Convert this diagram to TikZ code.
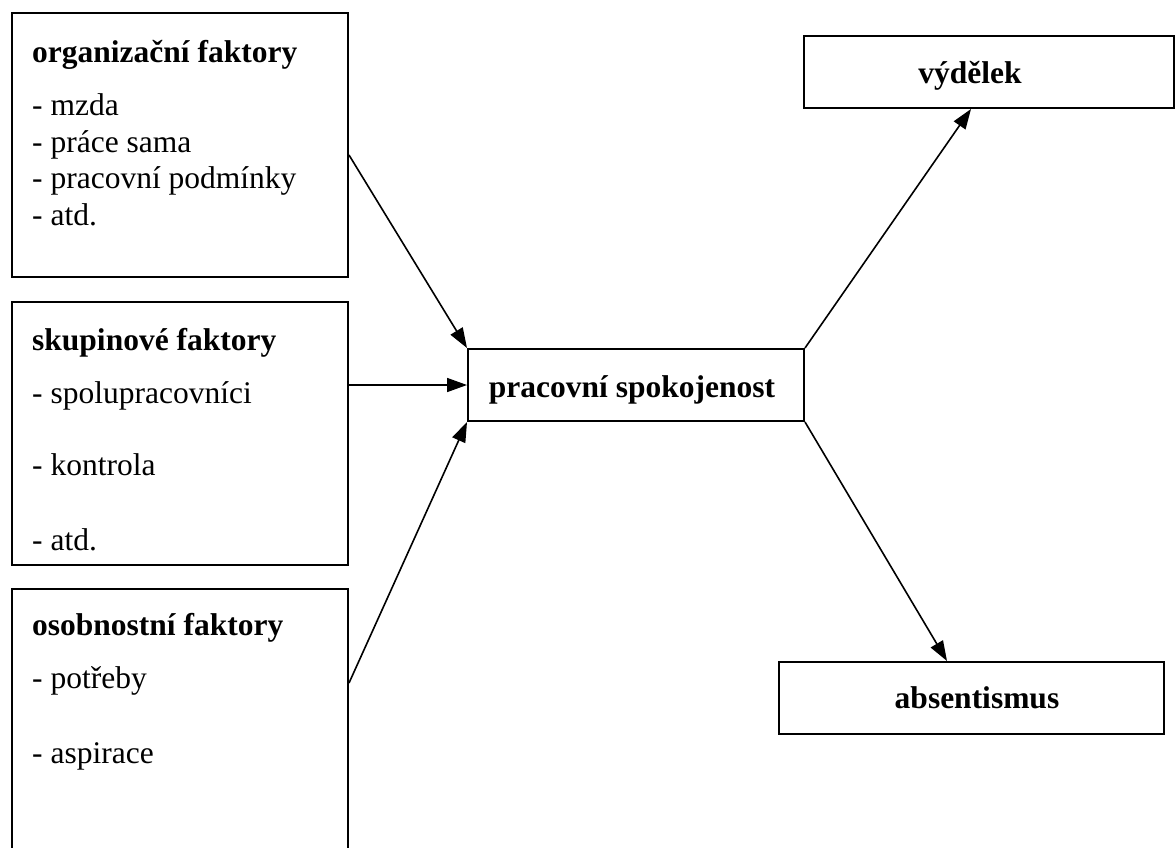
\documentclass[tikz,border=0pt]{standalone}
\usepackage{fontspec}
\setmainfont{Liberation Serif}
\usetikzlibrary{arrows.meta,calc}
\begin{document}
\begin{tikzpicture}[x=1pt,y=-1pt,
 box/.style={draw,line width=2pt,inner sep=0pt,anchor=north west},
 ttl/.style={anchor=base west,inner sep=0pt,font=\fontsize{31.5}{36}\selectfont\bfseries},
 itm/.style={anchor=base west,inner sep=0pt,font=\fontsize{31.5}{36}\selectfont},
 ctr/.style={anchor=base,inner sep=0pt,font=\fontsize{31.5}{36}\selectfont\bfseries},
 arr/.style={line width=1.6pt,-{Triangle[length=20pt,width=14pt]}}]
\useasboundingbox (0,0) rectangle (1175,847);
\clip (0,0) rectangle (1175,847);
% boxes
\node[box,minimum width=336pt,minimum height=264pt] (org) at (11,12) {};
\node[box,minimum width=336pt,minimum height=263pt] (skup) at (11,301) {};
\node[box,minimum width=336pt,minimum height=320pt] (osob) at (11,588) {};
\node[box,minimum width=336pt,minimum height=72pt] (ps) at (467,348) {};
\node[box,minimum width=370pt,minimum height=72pt] (vyd) at (803,35) {};
\node[box,minimum width=385pt,minimum height=72pt] (abs) at (778,661) {};
% texts
\node[ttl] (t1) at (32,62) {organizační faktory};
\node[itm] (t1a) at (32,115) {- mzda};
\node[itm] (t1b) at (32,152) {- práce sama};
\node[itm] (t1c) at (32,188) {- pracovní podmínky};
\node[itm] (t1d) at (32,225) {- atd.};
\node[ttl] (t2) at (32,350) {skupinové faktory};
\node[itm] (t2a) at (32,403) {- spolupracovníci};
\node[itm] (t2b) at (32,475) {- kontrola};
\node[itm] (t2c) at (32,550) {- atd.};
\node[ttl] (t3) at (32,635) {osobnostní faktory};
\node[itm] (t3a) at (32,688) {- potřeby};
\node[itm] (t3b) at (32,763) {- aspirace};
\node[ctr] (tps) at (632,397) {pracovní spokojenost};
\node[ctr] (tvyd) at (970,83) {výdělek};
\node[ctr] (tabs) at (977,708) {absentismus};
% arrows
\draw[arr] ($(org.north east)+(0,143)$) -- (ps.north west);
\draw[arr] (skup.east |- ps.west) -- (ps.west);
\draw[arr] ($(osob.north east)+(0,95)$) -- (ps.south west);
\draw[arr] (ps.north east) -- ($(vyd.south west)+(168,0)$);
\draw[arr] (ps.south east) -- ($(abs.north west)+(169,0)$);
\end{tikzpicture}
\end{document}
